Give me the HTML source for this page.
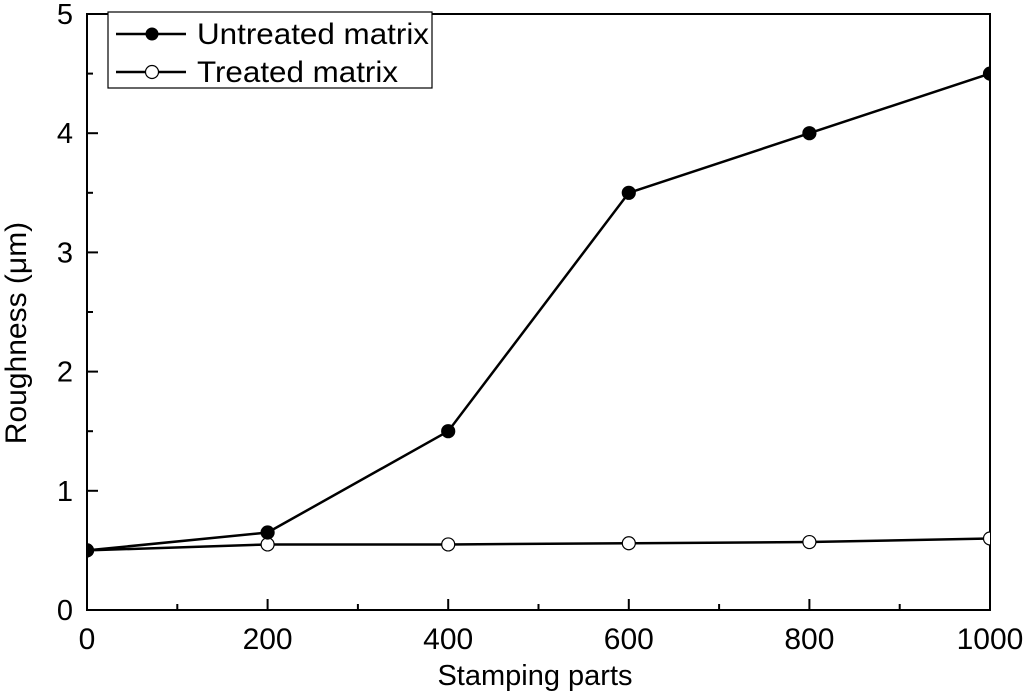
<!DOCTYPE html>
<html><head><meta charset="utf-8"><style>
body{margin:0;background:#fff;}
svg{display:block;font-family:"Liberation Sans",Arial,sans-serif;}
</style></head><body>
<svg id="chart" width="1024" height="697" viewBox="0 0 1024 697">
<defs><clipPath id="clip"><rect x="87" y="14" width="903" height="596"/></clipPath></defs>
<g id="axes"></g>
<g id="series" clip-path="url(#clip)"></g>
<text x="535" y="685" font-size="29" text-anchor="middle">Stamping parts</text>
<text transform="translate(26,333) rotate(-90)" font-size="30" text-anchor="middle">Roughness (μm)</text>
<g>
<rect x="108" y="12" width="324" height="76" fill="#fff" stroke="#000" stroke-width="1.2"/>
<line x1="116" y1="34" x2="186" y2="34" stroke="#000" stroke-width="2.5"/>
<circle cx="152" cy="34" r="6.5" fill="#000"/>
<text x="197" y="44" font-size="30" textLength="232" lengthAdjust="spacingAndGlyphs">Untreated matrix</text>
<line x1="116" y1="72" x2="186" y2="72" stroke="#000" stroke-width="2.5"/>
<circle cx="152" cy="72" r="6.5" fill="#fff" stroke="#000" stroke-width="1.2"/>
<text x="197" y="82" font-size="30" textLength="201" lengthAdjust="spacingAndGlyphs">Treated matrix</text>
</g>
</svg>
<script>
const xValues=[0,200,400,600,800,1000];
const untreated=[0.5,0.65,1.5,3.5,4.0,4.5];
const treated=[0.5,0.55,0.55,0.56,0.57,0.6];
const xTicks=[0,200,400,600,800,1000];
const yTicks=[0,1,2,3,4,5];
const NS="http://www.w3.org/2000/svg";
const X0=87,X1=990,Y0=610,Y1=14;
const xs=v=>X0+(v-0)/1000*(X1-X0);
const ys=v=>Y0-(v-0)/5*(Y0-Y1);
function mk(tag,at,parent){const e=document.createElementNS(NS,tag);for(const k in at)e.setAttribute(k,at[k]);parent.appendChild(e);return e;}
const axes=document.getElementById('axes');
const frame=mk('rect',{x:X0,y:Y1,width:X1-X0,height:Y0-Y1,fill:'none',stroke:'#000','stroke-width':2},axes);


xTicks.forEach((t,i)=>{
  const x=xs(t);
  mk('line',{x1:x,y1:Y0,x2:x,y2:Y0-11,stroke:'#000','stroke-width':2},axes);
  if(i<xTicks.length-1){const xm=xs(t+100);mk('line',{x1:xm,y1:Y0,x2:xm,y2:Y0-6,stroke:'#000','stroke-width':2},axes);}
  const tx=mk('text',{x:x,y:649,'font-size':30,'text-anchor':'middle'},axes);
  tx.textContent=t;
  
  
});
yTicks.forEach((t,i)=>{
  const y=ys(t);
  mk('line',{x1:X0,y1:y,x2:X0+11,y2:y,stroke:'#000','stroke-width':2},axes);
  if(i<yTicks.length-1){const ym=ys(t+0.5);mk('line',{x1:X0,y1:ym,x2:X0+6,y2:ym,stroke:'#000','stroke-width':2},axes);}
  const tx=mk('text',{x:73,y:y+10,'font-size':29,'text-anchor':'end'},axes);
  tx.textContent=t;
  
  
});
const ser=document.getElementById('series');
function draw(vals,fill,name){
  const pl=mk('polyline',{points:vals.map((v,i)=>xs(xValues[i])+','+ys(v)).join(' '),fill:'none',stroke:'#000','stroke-width':2.5},ser);
  
  
  vals.forEach((v,i)=>{
    const c=mk('circle',{cx:xs(xValues[i]),cy:ys(v),r:6.5,fill:fill,stroke:'#000','stroke-width':1.2},ser);
    
    
  });
}
draw(treated,'#fff','treated');
draw(untreated,'#000','untreated');
</script>
</body></html>
